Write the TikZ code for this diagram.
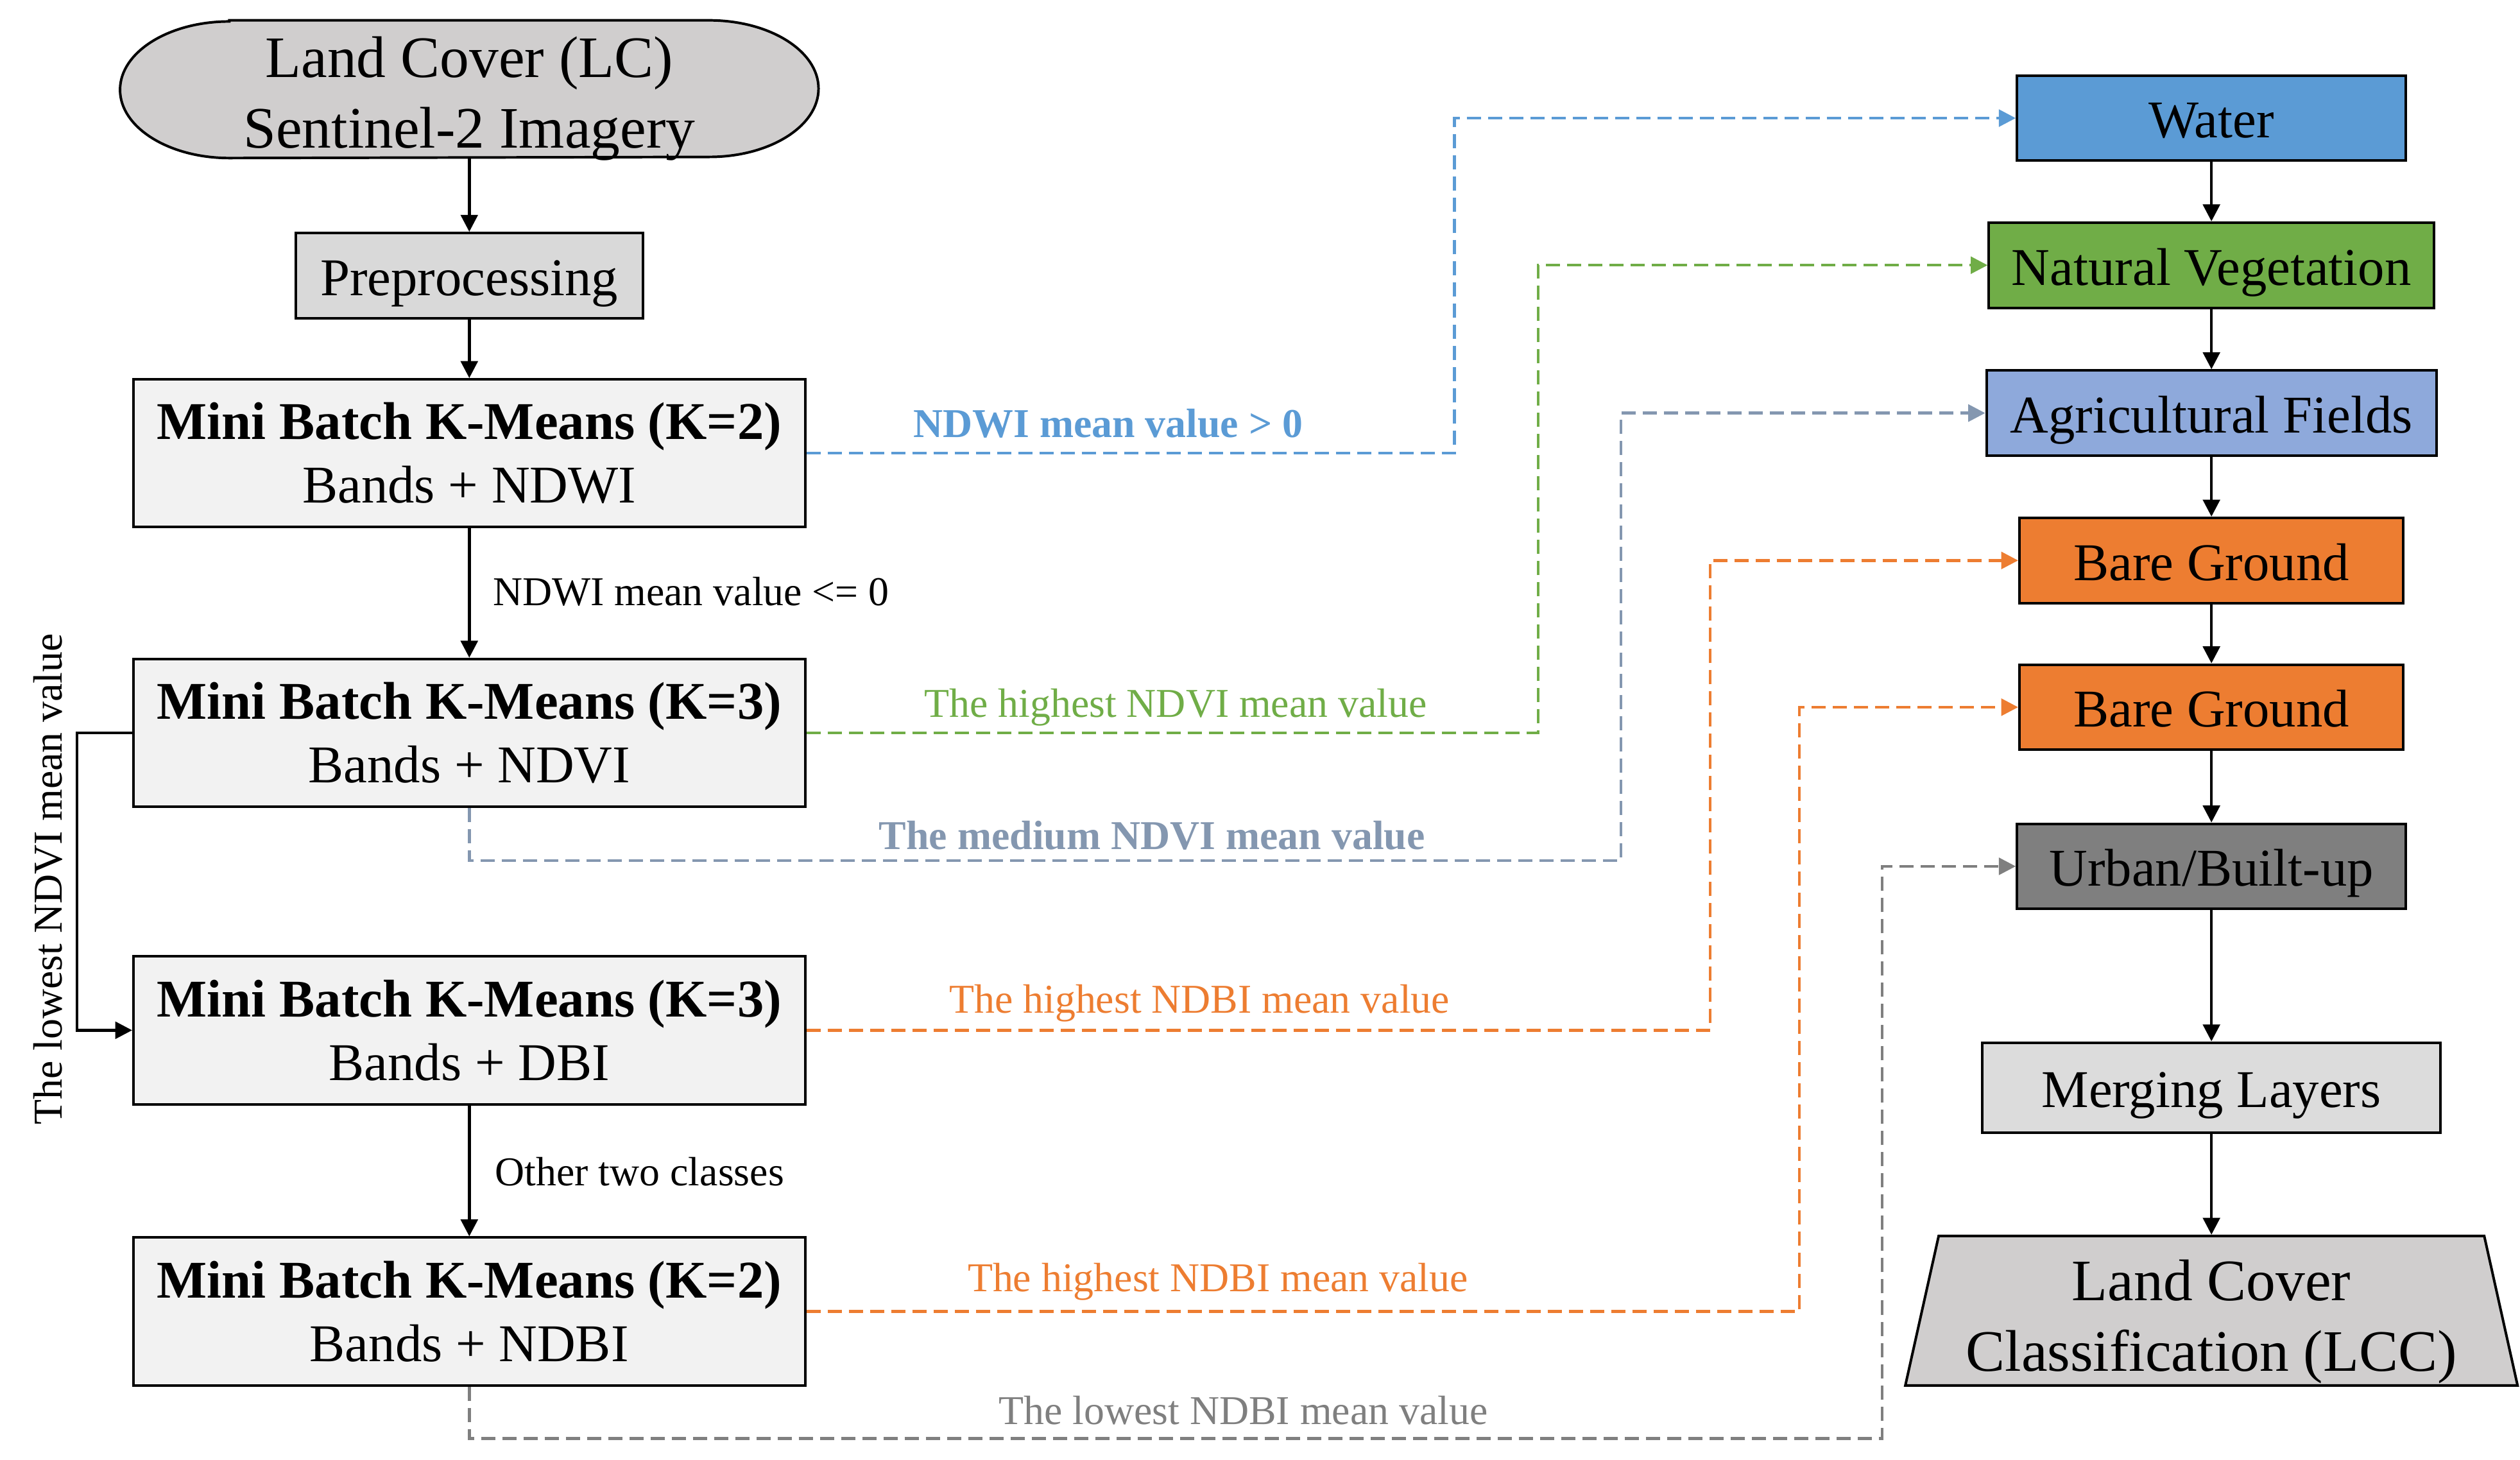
\documentclass[tikz,border=0pt]{standalone}
\usepackage{fontspec}
\setmainfont{Liberation Serif}
\usetikzlibrary{arrows.meta,shapes.geometric,backgrounds}

\definecolor{cTerm}{HTML}{D0CECE}
\definecolor{cPrep}{HTML}{D9D9D9}
\definecolor{cMB}{HTML}{F2F2F2}
\definecolor{cWater}{HTML}{5B9BD5}
\definecolor{cVeg}{HTML}{70AD47}
\definecolor{cAgri}{HTML}{8EA9DB}
\definecolor{cSlate}{HTML}{8497B0}
\definecolor{cBare}{HTML}{ED7D31}
\definecolor{cUrban}{HTML}{7F7F7F}
\definecolor{cMerge}{HTML}{DCDCDC}

\newcommand\boxfont{\fontsize{18.8}{22.5}\selectfont}
\newcommand\termfont{\fontsize{20.8}{25}\selectfont}
\newcommand\lblfont{\fontsize{14.5}{17}\selectfont}

\tikzset{
	stepbox/.style={draw, line width=0.9pt, inner sep=0pt, align=center, font=\boxfont},
	classbox/.style={stepbox, minimum height=1.06cm, text height=14pt, text depth=0pt},
	mbbox/.style={stepbox, fill=cMB, minimum width=8.36cm, minimum height=1.84cm},
	flow/.style={line width=1pt, -{Triangle[length=6pt,width=6pt]}},
	dashflow/.style={line width=1pt, dash pattern=on 5pt off 2.5pt, -{Triangle[length=6pt,width=6pt]}},
	lbl/.style={font=\lblfont, inner sep=0pt},
}

\begin{document}
\begin{tikzpicture}[x=0.02cm, y=-0.02cm]
		%%%%% START %%%%%
		\useasboundingbox (0,0) rectangle (1568,908);
		
		% left column
		\node[inner sep=0pt, minimum width=8.68cm, minimum height=1.7cm, text height=41.6pt, text depth=0pt, align=center, font=\termfont] (lc) at (292,55.5) {Land Cover (LC)\\Sentinel-2 Imagery};
		\begin{scope}[on background layer]
			\draw[fill=cTerm, line width=0.9pt] ([xshift=1.36cm]lc.north west) -- ([xshift=-1.36cm]lc.north east)
				arc[start angle=90, end angle=-90, x radius=1.36cm, y radius=0.85cm]
				-- ([xshift=1.36cm]lc.south west)
				arc[start angle=270, end angle=90, x radius=1.36cm, y radius=0.85cm] -- cycle;
		\end{scope}
		
		\node[classbox, fill=cPrep, minimum width=4.32cm] (prep) at (292,171.5) {Preprocessing};
		
		\node[mbbox] (mbA) at (292,282) {\textbf{Mini Batch K-Means (K=2)}\\Bands + NDWI};
		\node[mbbox] (mbB) at (292,456) {\textbf{Mini Batch K-Means (K=3)}\\Bands + NDVI};
		\node[mbbox] (mbC) at (292,641) {\textbf{Mini Batch K-Means (K=3)}\\Bands + DBI};
		\node[mbbox] (mbD) at (292,816) {\textbf{Mini Batch K-Means (K=2)}\\Bands + NDBI};
		
		% right column
		\node[classbox, fill=cWater, minimum width=4.84cm] (water) at (1376,73.5) {Water};
		\node[classbox, fill=cVeg, minimum width=5.54cm] (natveg) at (1376,165) {Natural Vegetation};
		\node[classbox, fill=cAgri, minimum width=5.6cm] (agri) at (1376,257) {Agricultural Fields};
		\node[classbox, fill=cBare, minimum width=4.78cm] (bareA) at (1376,348.7) {Bare Ground};
		\node[classbox, fill=cBare, minimum width=4.78cm] (bareB) at (1376,440) {Bare Ground};
		\node[classbox, fill=cUrban, minimum width=4.84cm] (urban) at (1376,539) {Urban/Built-up};
		\node[classbox, fill=cMerge, minimum width=5.7cm, minimum height=1.12cm] (merge) at (1376,676.7) {Merging Layers};
		\node[stepbox, trapezium, trapezium left angle=76, trapezium right angle=76, trapezium stretches=true, fill=cTerm, minimum width=7.64cm, minimum height=1.86cm, text height=42.6pt, text depth=0pt, font=\termfont] (lcc) at (1376,815.5) {Land Cover\\Classification (LCC)};
		
		% solid arrows
		\draw[flow] (lc) -- (prep);
		\draw[flow] (prep) -- (mbA);
		\draw[flow] (mbA) -- (mbB);
		\draw[flow] (mbC) -- (mbD);
		\foreach \a/\b in {water/natveg, natveg/agri, agri/bareA, bareA/bareB, bareB/urban, urban/merge, merge/lcc}
			\draw[flow] (\a) -- (\b);
		
		\coordinate (lowX) at (48,0);
		\draw[flow] (mbB.west) -- (mbB.west -| lowX) |- (mbC.west);
		
		\node[lbl] (lblLe) at (430,368) {NDWI mean value <= 0};
		\node[lbl] (lblOther) at (398,729) {Other two classes};
		\node[lbl, rotate=90] (lblLow) at (30,547) {The lowest NDVI mean value};
		
		% dashed arrows
		\coordinate (waterX) at (905,0);
		\coordinate (vegX) at (957,0);
		\coordinate (agriTurn) at (1008.5,535.4);
		\coordinate (bareAX) at (1064,0);
		\coordinate (bareBX) at (1119.5,0);
		\coordinate (urbanTurn) at (1171,895);
		
		\draw[dashflow, color=cWater] (mbA.east) -- (mbA.east -| waterX) |- (water.west);
		\draw[dashflow, color=cVeg] (mbB.east) -- (mbB.east -| vegX) |- (natveg.west);
		\draw[dashflow, color=cSlate] (mbB.south) |- (agriTurn) |- (agri.west);
		\draw[dashflow, color=cBare] (mbC.east) -- (mbC.east -| bareAX) |- (bareA.west);
		\draw[dashflow, color=cBare] (mbD.east) -- (mbD.east -| bareBX) |- (bareB.west);
		\draw[dashflow, color=cUrban] (mbD.south) |- (urbanTurn) |- (urban.west);
		
		\node[lbl, text=cWater, font=\lblfont\bfseries] (lblWater) at (689.5,263.5) {NDWI mean value > 0};
		\node[lbl, text=cVeg] (lblVeg) at (731.5,440) {The highest NDVI mean value};
		\node[lbl, text=cSlate, font=\lblfont\bfseries] (lblAgri) at (716.8,520) {The medium NDVI mean value};
		\node[lbl, text=cBare] (lblBareA) at (746.3,624) {The highest NDBI mean value};
		\node[lbl, text=cBare] (lblBareB) at (757.8,797.5) {The highest NDBI mean value};
		\node[lbl, text=cUrban] (lblUrban) at (773.6,877.5) {The lowest NDBI mean value};
		
		%%%%% END %%%%%
\end{tikzpicture}
\end{document}
